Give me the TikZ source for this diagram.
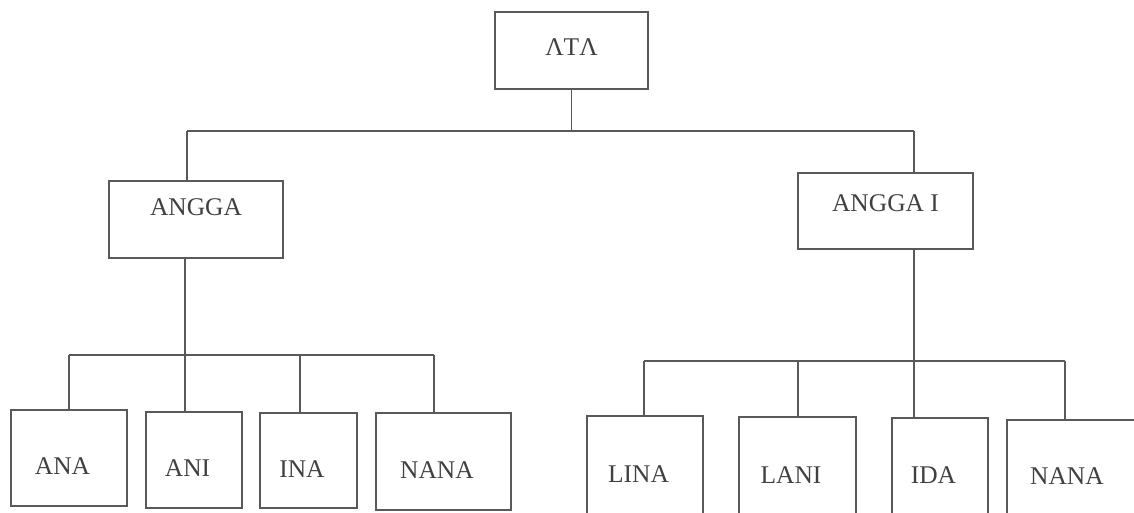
\documentclass[tikz,border=0pt]{standalone}
\usepackage{fontspec}
\setmainfont{Liberation Serif}

\tikzset{
    box/.style={draw=black!65, line width=0.6pt, inner sep=0pt},
    wire/.style={draw=black!65, line width=0.6pt},
    txt/.style={label={[xshift=-0.13cm, yshift=-0.17cm, text=black!75]center:#1}},
}

\begin{document}
\begin{tikzpicture}[x=0.02cm, y=-0.02cm, font=\fontsize{14.5}{17}\selectfont]
    \useasboundingbox (0,0) rectangle (1134,513);

    % top of the tree
    \node[box, minimum width=3.06cm, minimum height=1.54cm,
          label={[yshift=0.07cm, text=black!75]center:ΛTΛ}] (ata) at (571.5,50.5) {};
    \node[box, minimum width=3.48cm, minimum height=1.54cm,
          label={[yshift=0.24cm, text=black!75]center:ANGGA}] (angga) at (196,219.5) {};
    \node[box, minimum width=3.5cm, minimum height=1.52cm,
          label={[yshift=0.15cm, text=black!75]center:ANGGA I}] (anggai) at (885.5,211) {};

    % children of ANGGA
    \node[box, txt=ANA, minimum width=2.32cm, minimum height=1.92cm] (ana) at (69,458) {};
    \node[box, txt=ANI, minimum width=1.92cm, minimum height=1.92cm] (ani) at (194,460) {};
    \node[box, txt=INA, minimum width=1.94cm, minimum height=1.9cm] (ina) at (308.5,460.5) {};
    \node[box, txt=NANA, minimum width=2.7cm, minimum height=1.94cm] (nanaa) at (443.5,461.5) {};

    % children of ANGGA I
    \node[box, txt=LINA, minimum width=2.32cm, minimum height=2cm] (lina) at (645,466) {};
    \node[box, txt=LANI, minimum width=2.34cm, minimum height=1.98cm] (lani) at (797.5,466.5) {};
    \node[box, txt=IDA, minimum width=1.92cm, minimum height=1.96cm] (ida) at (940,467) {};
    \node[box, txt=NANA, minimum width=2.66cm, minimum height=1.92cm] (nanab) at (1073.5,468) {};

    % bars
    \coordinate (tl) at (187,131);
    \coordinate (tr) at (914,131);
    \coordinate (l1) at (69,355);
    \coordinate (l2) at (185,355);
    \coordinate (l3) at (300,355);
    \coordinate (l4) at (434,355);
    \coordinate (r1) at (644,361);
    \coordinate (r2) at (798,361);
    \coordinate (r3) at (914,361);
    \coordinate (r4) at (1065,361);

    \draw[wire] (tl) -- (tr);
    \draw[wire] (ata) -- (ata |- tl);
    \draw[wire] (tl) -- (tl |- angga.north);
    \draw[wire] (tr) -- (tr |- anggai.north);

    \draw[wire] (l1) -- (l4);
    \draw[wire] (l2) -- (l2 |- angga.south);
    \foreach \c/\n in {l1/ana, l2/ani, l3/ina, l4/nanaa}
        \draw[wire] (\c) -- (\c |- \n.north);

    \draw[wire] (r1) -- (r4);
    \draw[wire] (r3) -- (r3 |- anggai.south);
    \foreach \c/\n in {r1/lina, r2/lani, r3/ida, r4/nanab}
        \draw[wire] (\c) -- (\c |- \n.north);
\end{tikzpicture}
\end{document}
